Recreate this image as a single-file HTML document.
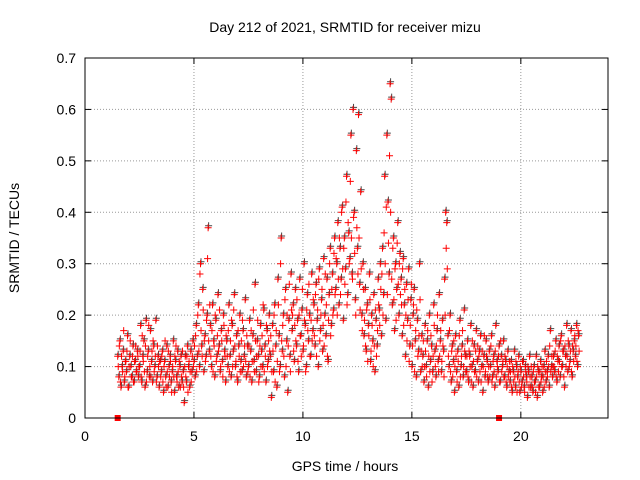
<!DOCTYPE html>
<html><head><meta charset="utf-8"><style>
body{margin:0;background:#fff;}
svg{display:block;font-family:"Liberation Sans",sans-serif;}
</style></head><body>
<svg id="chart" width="640" height="480">
<text x="345" y="32" font-size="14" text-anchor="middle" fill="#000">Day 212 of 2021, SRMTID for receiver mizu</text>
<text x="345" y="471" font-size="14" text-anchor="middle" fill="#000">GPS time / hours</text>
<text transform="translate(19,238) rotate(-90)" font-size="14" text-anchor="middle" fill="#000">SRMTID / TECUs</text>
<g id="grid"></g>
<g id="marks"></g>
<rect x="85" y="58" width="523" height="360" fill="none" stroke="#000" stroke-width="1"/>
</svg>
<script>
const xTicks=[0,5,10,15,20];
const yTicks=[0,0.1,0.2,0.3,0.4,0.5,0.6,0.7];
const yTickLabels=["0","0.1","0.2","0.3","0.4","0.5","0.6","0.7"];
const startHour=1.5;
const stepHour=0.05;
const srmtid=[
0.12,0.08,0.15,0.06,0.10,0.13,0.07,0.11,0.09,0.16,0.06,0.12,0.10,0.08,0.14,0.07,0.11,0.09,0.13,0.08,
0.10,0.18,0.07,0.12,0.15,0.06,0.19,0.09,0.13,0.08,0.17,0.11,0.07,0.14,0.10,0.19,0.08,0.12,0.06,0.11,
0.09,0.13,0.05,0.11,0.08,0.14,0.06,0.10,0.12,0.07,0.09,0.15,0.05,0.11,0.08,0.13,0.06,0.10,0.12,0.07,
0.09,0.03,0.12,0.07,0.14,0.10,0.06,0.13,0.09,0.15,0.11,0.08,0.18,0.12,0.22,0.10,0.30,0.14,0.25,0.09,
0.16,0.12,0.20,0.37,0.13,0.18,0.10,0.22,0.15,0.08,0.19,0.12,0.24,0.14,0.09,0.17,0.11,0.20,0.13,0.07,
0.15,0.10,0.22,0.12,0.08,0.18,0.13,0.24,0.10,0.16,0.07,0.14,0.20,0.11,0.09,0.17,0.12,0.23,0.08,0.14,
0.10,0.19,0.13,0.07,0.16,0.11,0.26,0.09,0.15,0.12,0.08,0.18,0.13,0.10,0.21,0.14,0.07,0.17,0.11,0.20,
0.12,0.04,0.18,0.09,0.22,0.14,0.06,0.27,0.16,0.10,0.35,0.13,0.20,0.08,0.25,0.15,0.05,0.19,0.12,0.28,
0.17,0.22,0.11,0.25,0.14,0.19,0.09,0.27,0.16,0.21,0.13,0.30,0.18,0.10,0.24,0.15,0.20,0.12,0.28,0.17,
0.22,0.14,0.26,0.19,0.10,0.29,0.17,0.23,0.13,0.31,0.20,0.16,0.27,0.11,0.24,0.33,0.18,0.28,0.21,0.35,
0.25,0.30,0.38,0.22,0.33,0.27,0.41,0.19,0.35,0.29,0.47,0.24,0.36,0.31,0.55,0.28,0.60,0.40,0.23,0.52,
0.33,0.59,0.26,0.44,0.20,0.30,0.16,0.25,0.13,0.22,0.18,0.28,0.11,0.20,0.15,0.24,0.09,0.19,0.14,0.27,
0.21,0.30,0.16,0.33,0.24,0.47,0.19,0.55,0.42,0.28,0.65,0.62,0.22,0.35,0.17,0.30,0.25,0.38,0.20,0.32,
0.27,0.16,0.31,0.22,0.12,0.26,0.19,0.29,0.14,0.23,0.10,0.20,0.25,0.15,0.08,0.19,0.13,0.30,0.09,0.16,
0.12,0.07,0.18,0.10,0.15,0.06,0.20,0.11,0.14,0.09,0.22,0.13,0.08,0.17,0.11,0.24,0.15,0.09,0.19,0.13,
0.27,0.40,0.38,0.16,0.10,0.20,0.07,0.14,0.11,0.05,0.16,0.09,0.13,0.06,0.19,0.10,0.14,0.08,0.21,0.12,
0.09,0.15,0.07,0.12,0.18,0.10,0.06,0.14,0.09,0.17,0.11,0.07,0.13,0.16,0.10,0.05,0.12,0.08,0.15,0.11,
0.07,0.13,0.10,0.16,0.08,0.12,0.06,0.18,0.11,0.09,0.14,0.07,0.12,0.10,0.15,0.08,0.11,0.06,0.13,0.09,
0.07,0.11,0.05,0.09,0.13,0.06,0.10,0.08,0.12,0.05,0.09,0.07,0.11,0.06,0.10,0.08,0.04,0.09,0.12,0.06,
0.08,0.05,0.10,0.07,0.12,0.04,0.09,0.06,0.11,0.08,0.05,0.10,0.13,0.07,0.09,0.12,0.06,0.17,0.10,0.08,
0.12,0.09,0.15,0.07,0.11,0.14,0.08,0.16,0.10,0.13,0.06,0.12,0.18,0.09,0.14,0.11,0.17,0.08,0.13,0.15,
0.12,0.18,0.10,0.16
];
const srmtid2=[
0.10,0.14,0.07,0.12,0.09,0.17,0.08,0.11,0.13,0.06,0.10,0.15,0.08,0.12,0.07,0.11,0.14,0.09,0.12,0.10,
0.13,0.08,0.16,0.11,0.09,0.14,0.07,0.12,0.18,0.10,0.08,0.13,0.15,0.09,0.12,0.07,0.14,0.10,0.11,0.08,
0.12,0.07,0.10,0.15,0.06,0.09,0.13,0.08,0.11,0.05,0.10,0.08,0.12,0.14,0.07,0.09,0.11,0.06,0.08,0.13,
0.06,0.10,0.08,0.12,0.05,0.11,0.09,0.07,0.12,0.10,0.14,0.16,0.09,0.20,0.13,0.28,0.17,0.12,0.21,0.15,
0.11,0.19,0.31,0.15,0.22,0.12,0.17,0.09,0.14,0.20,0.11,0.16,0.13,0.21,0.10,0.15,0.08,0.18,0.12,0.16,
0.12,0.17,0.09,0.15,0.19,0.10,0.21,0.14,0.11,0.08,0.17,0.12,0.09,0.15,0.19,0.10,0.14,0.11,0.16,0.09,
0.14,0.08,0.17,0.11,0.21,0.09,0.15,0.12,0.19,0.07,0.14,0.10,0.16,0.22,0.09,0.12,0.18,0.10,0.15,0.13,
0.16,0.09,0.13,0.20,0.07,0.17,0.11,0.22,0.09,0.30,0.15,0.18,0.12,0.23,0.10,0.20,0.14,0.26,0.09,0.21,
0.20,0.13,0.18,0.15,0.23,0.11,0.20,0.16,0.12,0.25,0.14,0.19,0.09,0.21,0.17,0.26,0.12,0.19,0.15,0.23,
0.16,0.24,0.12,0.21,0.27,0.15,0.20,0.25,0.18,0.14,0.28,0.22,0.12,0.19,0.30,0.16,0.25,0.20,0.32,0.24,
0.31,0.20,0.27,0.35,0.24,0.40,0.29,0.33,0.26,0.42,0.22,0.38,0.30,0.46,0.35,0.27,0.39,0.32,0.20,0.37,
0.28,0.35,0.21,0.29,0.17,0.25,0.19,0.14,0.21,0.11,0.16,0.23,0.13,0.18,0.10,0.14,0.21,0.12,0.17,0.22,
0.18,0.25,0.28,0.20,0.36,0.30,0.41,0.24,0.34,0.51,0.40,0.27,0.33,0.23,0.29,0.19,0.34,0.26,0.30,0.24,
0.22,0.29,0.18,0.25,0.20,0.15,0.23,0.11,0.18,0.26,0.14,0.22,0.09,0.17,0.21,0.12,0.16,0.23,0.13,0.10,
0.15,0.10,0.13,0.08,0.17,0.12,0.09,0.16,0.07,0.12,0.18,0.10,0.14,0.20,0.09,0.12,0.17,0.11,0.14,0.08,
0.20,0.33,0.29,0.12,0.17,0.09,0.13,0.08,0.15,0.10,0.12,0.07,0.11,0.16,0.08,0.12,0.17,0.10,0.13,0.09,
0.12,0.08,0.13,0.10,0.07,0.15,0.11,0.09,0.13,0.08,0.14,0.12,0.09,0.07,0.13,0.10,0.16,0.09,0.12,0.08,
0.10,0.08,0.14,0.07,0.11,0.09,0.13,0.08,0.10,0.12,0.07,0.15,0.09,0.11,0.08,0.12,0.07,0.10,0.08,0.11,
0.09,0.06,0.10,0.07,0.08,0.11,0.05,0.09,0.07,0.10,0.06,0.11,0.08,0.05,0.09,0.07,0.10,0.06,0.08,0.10,
0.06,0.09,0.07,0.05,0.08,0.10,0.06,0.09,0.07,0.10,0.08,0.06,0.09,0.11,0.08,0.10,0.14,0.09,0.12,0.10,
0.10,0.13,0.08,0.12,0.09,0.11,0.15,0.10,0.13,0.08,0.14,0.10,0.12,0.15,0.10,0.13,0.09,0.14,0.11,0.16,
0.14,0.11,0.17,0.13
];
const gapMarkers=[1.5,19.0];
const NS="http://www.w3.org/2000/svg";
const X0=85,X1=608,Y0=418,Y1=58;
function xs(h){return X0+h*(X1-X0)/24;}
function ys(v){return Y0-v*(Y0-Y1)/0.7;}
const grid=document.getElementById('grid'),marks=document.getElementById('marks'),svg=document.getElementById('chart');
function mk(tag,attrs,parent){const e=document.createElementNS(NS,tag);for(const k in attrs)e.setAttribute(k,attrs[k]);parent.appendChild(e);return e;}
xTicks.forEach(t=>{
 const x=xs(t);
 if(t>0){const g=mk('line',{x1:x,x2:x,y1:Y0,y2:Y1,stroke:'#999','stroke-dasharray':'1,2'},grid);
 
 }
 const l=mk('text',{x:x,y:Y0+23,'font-size':14,'text-anchor':'middle'},svg);l.textContent=t;
 
 
 mk('line',{x1:x,x2:x,y1:Y0,y2:Y0-6,stroke:'#000'},grid);
 mk('line',{x1:x,x2:x,y1:Y1,y2:Y1+6,stroke:'#000'},grid);
});
yTicks.forEach((v,i)=>{
 const y=ys(v);
 if(v>0&&v<0.7){const g=mk('line',{x1:X0,x2:X1,y1:y,y2:y,stroke:'#999','stroke-dasharray':'1,2'},grid);
 
 }
 const l=mk('text',{x:X0-9,y:y+5,'font-size':14,'text-anchor':'end'},svg);l.textContent=yTickLabels[i];
 
 
 mk('line',{x1:X0,x2:X0+6,y1:y,y2:y,stroke:'#000'},grid);
 mk('line',{x1:X1,x2:X1-6,y1:y,y2:y,stroke:'#000'},grid);
});
function cross(x,y,col){
 return mk('path',{d:`M${x-3.5},${y}h7M${x},${y-3.5}v7`,stroke:col,'stroke-width':1,fill:'none'},marks);
}
srmtid.forEach((v,i)=>{
 const h=startHour+i*stepHour;
 const b=cross(xs(h)+0.5,ys(v)-2,'#444');
 
 
});
srmtid.forEach((v,i)=>{
 const h=startHour+i*stepHour;
 const p=cross(xs(h),ys(v),'#f00');
 
 
});
srmtid2.forEach((v,i)=>{
 const h=startHour+stepHour/2+i*stepHour;
 const p=cross(xs(h),ys(v),'#f00');
 
 
});
gapMarkers.forEach(h=>{
 const r=mk('rect',{x:xs(h)-3,y:Y0-3,width:6,height:6,fill:'#f00'},marks);
 
 
});
</script>
</body></html>
